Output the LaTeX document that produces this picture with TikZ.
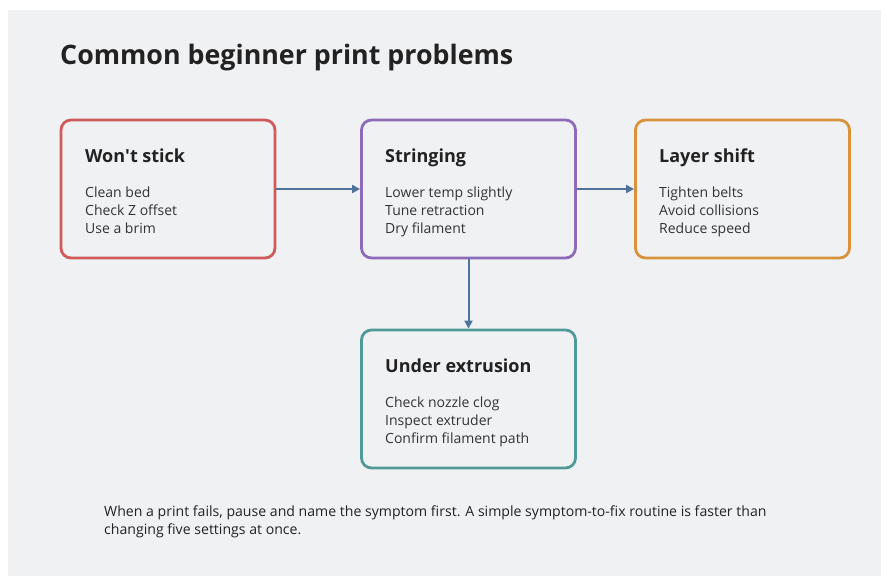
\documentclass[tikz,border=0pt]{standalone}
\usepackage{fontspec}
\setmainfont{Open Sans}
\usetikzlibrary{arrows.meta}
\definecolor{panel}{HTML}{F0F1F3}
\definecolor{ink}{HTML}{222222}
\definecolor{bodyink}{HTML}{333333}
\definecolor{cred}{HTML}{D05A5A}
\definecolor{cpurple}{HTML}{8D6BB8}
\definecolor{corange}{HTML}{D9913A}
\definecolor{cteal}{HTML}{4F9A98}
\definecolor{carrow}{HTML}{4E7299}
\tikzset{
  card/.style={draw=#1, line width=2.8pt, rounded corners=10pt, minimum width=214pt, minimum height=138pt, inner sep=0pt},
  cardtitle/.style={anchor=base west, font=\fontsize{18}{22}\selectfont\bfseries, text=ink, inner sep=0pt},
  cardbody/.style={anchor=north west, font=\fontsize{14}{18}\selectfont, text=bodyink, align=left, inner sep=0pt},
  flow/.style={draw=carrow, line width=2pt, -{Triangle[length=8pt,width=8pt]}},
}
\begin{document}
\begin{tikzpicture}[x=1pt,y=-1pt]
\useasboundingbox (0,0) rectangle (887,576);
\fill[white] (0,0) rectangle (887,576);
\fill[panel] (8,10) rectangle (881,576);
\node[anchor=base west, inner sep=0pt, font=\fontsize{26.8}{32}\selectfont\bfseries, text=ink] (title) at (60,64) {Common beginner print problems};

\node[card=cred] (b1) at (168,189) {};
\node[card=cpurple] (b2) at (468.5,189) {};
\node[card=corange] (b3) at (742.5,189) {};
\node[card=cteal] (b4) at (468.5,399) {};

\node[cardtitle] (t1) at (85,162) {Won\textquotesingle t stick};
\node[cardbody] (l1) at (85,186.5) {Clean bed\\Check Z offset\\Use a brim};
\node[cardtitle] (t2) at (385,162) {Stringing};
\node[cardbody] (l2) at (385,186.5) {Lower temp slightly\\Tune retraction\\Dry filament};
\node[cardtitle] (t3) at (659,162) {Layer shift};
\node[cardbody] (l3) at (659,186.5) {Tighten belts\\Avoid collisions\\Reduce speed};
\node[cardtitle] (t4) at (385,372) {Under extrusion};
\node[cardbody] (l4) at (385,396.5) {Check nozzle clog\\Inspect extruder\\Confirm filament path};

\draw[flow] (b1.east) -- (b2.west);
\draw[flow] (b2.east) -- (b3.west);
\draw[flow] (b2.south) -- (b4.north);

\node[anchor=north west, inner sep=0pt, font=\fontsize{14.1}{18}\selectfont, text=ink, align=left] (note) at (104,505.5) {When a print fails, pause and name the symptom first. A simple symptom-to-fix routine is faster than\\changing five settings at once.};
\end{tikzpicture}
\end{document}
